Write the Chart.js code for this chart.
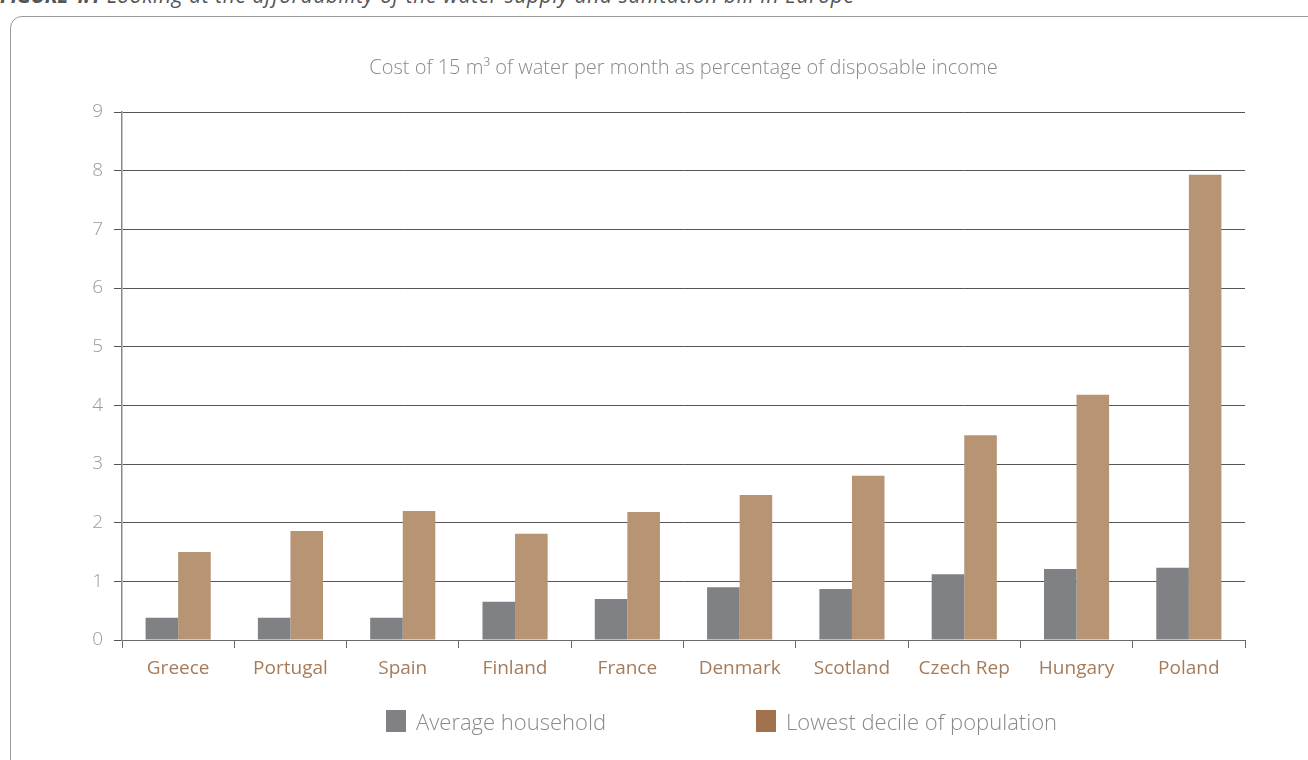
<!DOCTYPE html>
<html>
<head>
<meta charset="utf-8">
<script src="https://cdn.jsdelivr.net/npm/chart.js@4.4.0/dist/chart.umd.min.js"></script>
<style>
  body { margin: 0; background: #fff; width: 1308px; height: 760px; overflow: hidden; position: relative; font-family: "Open Sans", sans-serif; }
  .caption { position: absolute; left: 0; top: -19px; font-size: 21px; font-style: italic; color: #555; white-space: nowrap; letter-spacing: 0.6px; }
  .caption b { font-style: italic; letter-spacing: -0.5px; }
  .frame { position: absolute; left: 10px; top: 16px; width: 1330px; height: 800px; border: 1px solid #9a9a9a; border-radius: 12px; }
  #chart { position: absolute; left: 0; top: 0; }
  .legend { position: absolute; top: 710px; left: 0; width: 1308px; font-size: 22px; font-weight: 300; color: #8a8a8a; }
  .legend span.item { position: absolute; top: 0; display: flex; align-items: center; line-height: 22px; }
  .legend i { display: inline-block; width: 20px; height: 22px; margin-right: 10px; }
</style>
</head>
<body>
<div class="caption"><b>FIGURE 4.1</b> Looking at the affordability of the water supply and sanitation bill in Europe</div>
<div class="frame"></div>
<canvas id="chart" width="1308" height="760"></canvas>
<div class="legend" id="legend"></div>
<script>
// values (% of disposable income)
const countries = ['Greece', 'Portugal', 'Spain', 'Finland', 'France', 'Denmark', 'Scotland', 'Czech Rep', 'Hungary', 'Poland'];
const averageHousehold = [0.38, 0.38, 0.38, 0.65, 0.70, 0.90, 0.87, 1.12, 1.21, 1.23];
const lowestDecile = [1.50, 1.86, 2.20, 1.81, 2.18, 2.47, 2.80, 3.49, 4.18, 7.93];
const yTicks = [0, 1, 2, 3, 4, 5, 6, 7, 8, 9];

const GREY = '#808185';
const BROWN = '#b69474';
const BROWN_KEY = '#a2714d';

// centre the title over the plot area instead of the whole canvas
const titleOverPlot = {
  id: 'titleOverPlot',
  afterLayout(chart) {
    if (chart.titleBlock) {
      chart.titleBlock.left = chart.chartArea.left;
      chart.titleBlock.right = chart.chartArea.right;
    }
  },
};

const ctx = document.getElementById('chart').getContext('2d');

const chart = new Chart(ctx, {
  type: 'bar',
  data: {
    labels: countries,
    datasets: [
      {
        label: 'Average household',
        data: averageHousehold,
        backgroundColor: GREY,
        keyColor: GREY,
        barPercentage: 1.0,
        categoryPercentage: 0.58,
      },
      {
        label: 'Lowest decile of population',
        data: lowestDecile,
        backgroundColor: BROWN,
        keyColor: BROWN_KEY,
        barPercentage: 1.0,
        categoryPercentage: 0.58,
      },
    ],
  },
  plugins: [titleOverPlot],
  options: {
    responsive: false,
    animation: false,
    layout: { padding: { left: 0, right: 63, top: 0, bottom: 70 } },
    plugins: {
      legend: { display: false },
      tooltip: { enabled: false },
      title: {
        display: true,
        text: 'Cost of 15 m\u00b3 of water per month as percentage of disposable income',
        color: '#8a8a8a',
        font: { family: 'Open Sans', size: 20, weight: 300, lineHeight: 1.2 },
        padding: { top: 56, bottom: 32 },
      },
    },
    scales: {
      x: {
        offset: true,
        grid: { offset: true, drawOnChartArea: false, drawTicks: true, tickLength: 8, color: '#6a6a6a', lineWidth: 1 },
        border: { display: true, color: '#6a6a6a', width: 1 },
        ticks: { color: '#a67b59', padding: 9, font: { family: 'Open Sans', size: 19 } },
        afterFit: (scale) => { scale.height = 50; },
      },
      y: {
        min: 0,
        max: 9,
        afterBuildTicks: (scale) => { scale.ticks = yTicks.map((v) => ({ value: v })); },
        grid: { color: '#555', lineWidth: 1, tickLength: 8, drawTicks: true },
        border: { display: true, color: '#8a8a8a', width: 1.5 },
        ticks: { color: '#9a9a9a', padding: 11, font: { family: 'Open Sans', size: 19, weight: 300 } },
        afterFit: (scale) => { scale.width = 122; },
      },
    },
  },
});

// legend as plain html, spaced like the printed figure
const legendEl = document.getElementById('legend');
const legendLeft = [386, 756];
chart.data.datasets.forEach((ds, i) => {
  const item = document.createElement('span');
  item.className = 'item';
  item.style.left = legendLeft[i] + 'px';
  item.innerHTML = '<i style="background:' + ds.keyColor + '"></i>' + ds.label;
  legendEl.appendChild(item);
});
</script>
</body>
</html>
